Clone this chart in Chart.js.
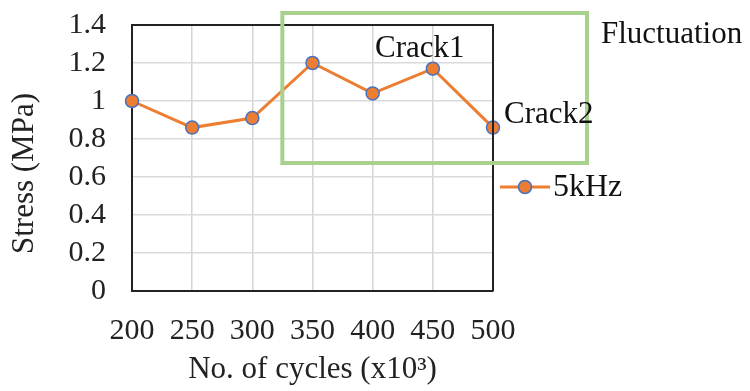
<!DOCTYPE html>
<html><head><meta charset="utf-8">
<script src="https://cdn.jsdelivr.net/npm/chart.js@4"></script>
<style>html,body{margin:0;padding:0;background:#fff}#wrap{width:750px;height:391px}</style>
</head><body><div id="wrap"><canvas id="c" width="750" height="391"></canvas></div>
<script>
const categories = ['200','250','300','350','400','450','500'];
const stress5kHz = [1.0, 0.86, 0.91, 1.2, 1.04, 1.17, 0.86];
const seriesName = '5kHz';
const xTitle = 'No. of cycles (x10\u00B3)';
const yTitle = 'Stress (MPa)';
const yMin = 0, yMax = 1.4, yStep = 0.2;
const annotations = ['Crack1', 'Crack2', 'Fluctuation'];

const SERIF = '"Liberation Serif","Times New Roman",serif';
const ORANGE = '#ED7D31', BLUE = '#4472C4', GREEN = '#A9D18E';

const overlay = {
  id: 'overlay',
  afterDraw(chart) {
    const ctx = chart.ctx, a = chart.chartArea;
    const xs = chart.scales.x, ys = chart.scales.y;
    ctx.save();
    // plot frame (top/right)
    ctx.strokeStyle = '#222'; ctx.lineWidth = 2;
    ctx.beginPath();
    ctx.moveTo(a.left, a.top); ctx.lineTo(a.right, a.top); ctx.lineTo(a.right, a.bottom);
    ctx.stroke();
    // green fluctuation box
    ctx.strokeStyle = GREEN; ctx.lineWidth = 4;
    const bx0 = xs.getPixelForValue(2) + 30, bx1 = a.right + 94;
    const by0 = a.top - 12, by1 = a.top + 138;
    ctx.strokeRect(bx0, by0, bx1 - bx0, by1 - by0);
    // texts
    ctx.fillStyle = '#111';
    ctx.font = '31px ' + SERIF;
    ctx.textBaseline = 'alphabetic';
    ctx.textAlign = 'center';
    ctx.fillText(annotations[0], xs.getPixelForValue(5) - 13, ys.getPixelForValue(stress5kHz[5]) - 12);
    ctx.textAlign = 'left';
    ctx.fillText(annotations[1], xs.getPixelForValue(6) + 11, ys.getPixelForValue(stress5kHz[6]) - 5);
    ctx.fillText(annotations[2], a.right + 108, a.top + 18);
    // legend
    const lx = a.right + 7, ly = a.top + 162;
    ctx.strokeStyle = ORANGE; ctx.lineWidth = 3;
    ctx.beginPath(); ctx.moveTo(lx, ly); ctx.lineTo(lx + 50, ly); ctx.stroke();
    ctx.beginPath(); ctx.arc(lx + 25, ly, 6.5, 0, Math.PI * 2);
    ctx.fillStyle = ORANGE; ctx.fill();
    ctx.strokeStyle = BLUE; ctx.lineWidth = 1.5; ctx.stroke();
    ctx.fillStyle = '#111'; ctx.font = '32px ' + SERIF;
    ctx.textBaseline = 'middle'; ctx.textAlign = 'left';
    ctx.fillText(seriesName, lx + 53, ly + 1);
    ctx.restore();
  }
};

new Chart(document.getElementById('c'), {
  type: 'line',
  data: {
    labels: categories,
    datasets: [{
      label: seriesName,
      data: stress5kHz,
      borderColor: ORANGE,
      borderWidth: 3,
      backgroundColor: ORANGE,
      pointBackgroundColor: ORANGE,
      pointBorderColor: BLUE,
      pointBorderWidth: 1.5,
      pointRadius: 6.5,
      tension: 0,
      clip: false
    }]
  },
  options: {
    responsive: false,
    animation: false,
    events: [],
    layout: { padding: { left: 0, right: 257, top: 25, bottom: 0 } },
    plugins: { legend: { display: false }, tooltip: { enabled: false } },
    scales: {
      x: {
        offset: false,
        grid: { color: '#d4d4d4', lineWidth: 1.5, drawTicks: false },
        border: { color: '#222', width: 2 },
        ticks: { color: '#222', font: { family: SERIF, size: 30 }, padding: 22, maxRotation: 0, autoSkip: false },
        title: { display: true, text: xTitle, color: '#222', font: { family: SERIF, size: 31 }, padding: { top: 0, bottom: 3 } },
        afterFit(s) { s.height = 100; s.paddingLeft = 0; s.paddingRight = 0; }
      },
      y: {
        min: yMin, max: yMax,
        grid: { color: '#dadada', lineWidth: 1.5, drawTicks: false },
        border: { color: '#222', width: 2 },
        ticks: { stepSize: yStep, color: '#222', font: { family: SERIF, size: 30 }, padding: 26, autoSkip: false,
          callback: v => String(+v.toFixed(1)) },
        title: { display: true, text: yTitle + '    ', color: '#222', font: { family: SERIF, size: 31 }, padding: { top: 6, bottom: 0 } },
        afterFit(s) { s.width = 132; s.paddingTop = 0; s.paddingBottom = 0; }
      }
    }
  },
  plugins: [overlay]
});
</script></body></html>
